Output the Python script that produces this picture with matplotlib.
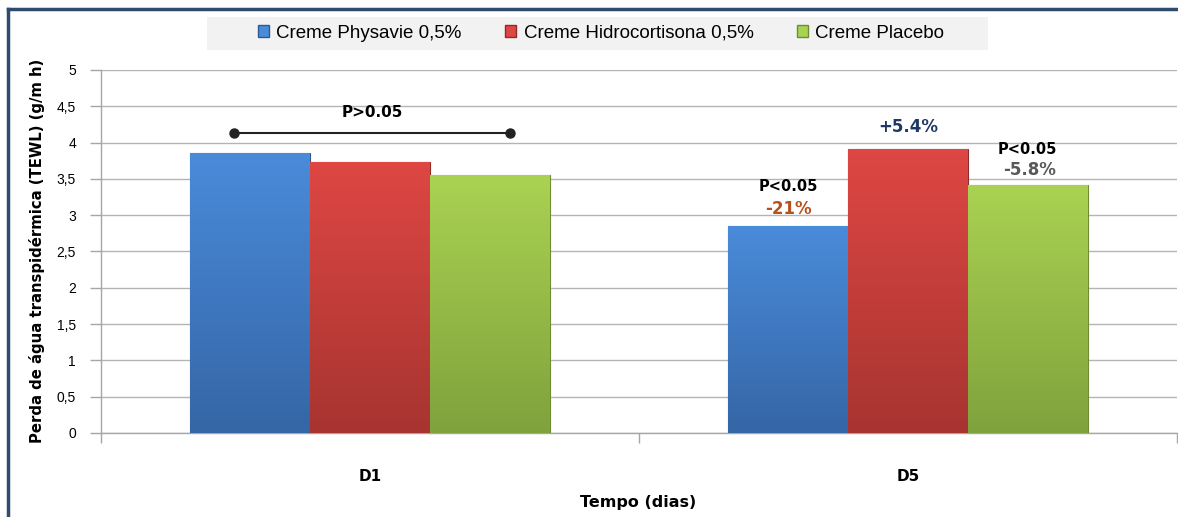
import numpy as np
import matplotlib.pyplot as plt
from matplotlib.colors import LinearSegmentedColormap
from matplotlib.patches import Rectangle, Patch
from matplotlib.lines import Line2D

# dados
dias = ['D1', 'D5']
physavie = [3.86, 2.85]
hidrocortisona = [3.73, 3.91]
placebo = [3.55, 3.42]
series_nomes = ['Creme Physavie 0,5%', 'Creme Hidrocortisona 0,5%', 'Creme Placebo']

# cores (topo, base)
cores = [('#4A8BDA', '#3566A6'), ('#DE4743', '#A73431'), ('#AAD252', '#80A23C')]
bordas = ['#2E5A93', '#8E2C29', '#6E8C33']

fig = plt.figure(figsize=(11.78, 5.17), dpi=100)
ax = fig.add_axes([101/1178, 84/517, 1076/1178, 363/517])

x = np.arange(len(dias))
w = 0.223
valores = [physavie, hidrocortisona, placebo]
grad = np.linspace(1, 0, 256).reshape(-1, 1)
for i, vals in enumerate(valores):
    bars = ax.bar(x + (i - 1) * w, vals, w, color=cores[i][0], edgecolor=bordas[i],
                  linewidth=0.8, zorder=3)
    cmap = LinearSegmentedColormap.from_list('g%d' % i, [cores[i][1], cores[i][0]])
    for b in bars:
        bx, by = b.get_x(), b.get_y()
        im = ax.imshow(grad, cmap=cmap, extent=[bx, bx + b.get_width(), by, by + b.get_height()],
                       aspect='auto', zorder=3.5, vmin=0, vmax=1)
        im.set_clip_path(b)

ax.set_xlim(-0.5, 1.5)
ax.set_ylim(0, 5)
ax.set_yticks(np.arange(0, 5.01, 0.5))
ax.set_yticklabels(['0', '0,5', '1', '1,5', '2', '2,5', '3', '3,5', '4', '4,5', '5'],
                   fontsize=10, family='Liberation Sans')
ax.yaxis.grid(True, color='#B4B4B4', linewidth=1.0, zorder=0)
ax.set_axisbelow(True)
for s in ['top', 'right']:
    ax.spines[s].set_visible(False)
for s in ['left', 'bottom']:
    ax.spines[s].set_color('#A6A6A6')
    ax.spines[s].set_linewidth(1.0)
ax.tick_params(axis='y', length=8, color='#A6A6A6', width=1.0, pad=10)
ax.set_xticks(x)
ax.set_xticklabels(dias, fontsize=11, fontweight='bold', family='DejaVu Sans')
ax.tick_params(axis='x', length=0, pad=26)
ax.set_xticks([-0.5, 0.5, 1.5], minor=True)
ax.tick_params(axis='x', which='minor', length=7, color='#A6A6A6', width=1.0)

# anotações
ax.plot([-0.253, 0.26], [4.13, 4.13], '-o', color='#222222', ms=6.5, lw=1.5, zorder=5)
ax.text(0.004, 4.41, 'P>0.05', ha='center', va='center', fontsize=11, fontweight='bold')
ax.text(1.0, 4.21, '+5.4%', ha='center', va='center', fontsize=12, fontweight='bold', color='#1F3864')
ax.text(0.777, 3.40, 'P<0.05', ha='center', va='center', fontsize=10.5, fontweight='bold')
ax.text(0.777, 3.09, '-21%', ha='center', va='center', fontsize=12, fontweight='bold', color='#B8501A')
ax.text(1.222, 3.90, 'P<0.05', ha='center', va='center', fontsize=10.5, fontweight='bold')
ax.text(1.226, 3.62, '-5.8%', ha='center', va='center', fontsize=12, fontweight='bold', color='#595959')

fig.text(37/1178, 1 - 251/517, 'Perda de água transpidérmica (TEWL) (g/m h)', rotation=90,
         ha='center', va='center', fontsize=10.7, fontweight='bold')
fig.text(638/1178, 1 - 503/517, 'Tempo (dias)', ha='center', va='center', fontsize=11.5,
         fontweight='bold')

# legenda
fig.patches.append(Rectangle((207/1178, 1 - 50/517), 781/1178, 33/517, transform=fig.transFigure,
                             facecolor='#F2F2F2', edgecolor='none', zorder=0))
handles = [Patch(facecolor=cores[i][0], edgecolor=bordas[i]) for i in range(3)]
fig.legend(handles, series_nomes, loc='center', bbox_to_anchor=(601/1178, 1 - 33/517), ncol=3,
           frameon=False, handlelength=0.6, handleheight=0.6, handletextpad=0.4,
           columnspacing=2.3, prop={'family': 'Liberation Sans', 'size': 13.5})

# moldura
fig.add_artist(Line2D([8/1178, 1], [1 - 9/517, 1 - 9/517], transform=fig.transFigure,
                      color='#2F4B6E', lw=2.5))
fig.add_artist(Line2D([8/1178, 8/1178], [0, 1 - 9/517], transform=fig.transFigure,
                      color='#2F4B6E', lw=2.5))

fig.savefig('out.png', dpi=100)
